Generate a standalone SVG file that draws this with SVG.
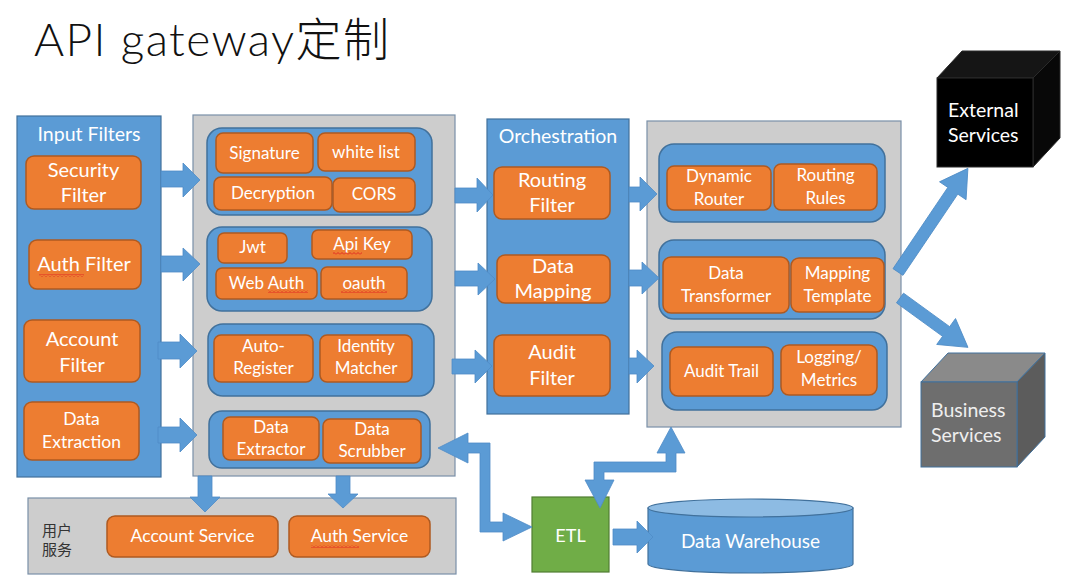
<svg xmlns="http://www.w3.org/2000/svg" width="1080" height="586" viewBox="0 0 1080 586">
<defs>
<style>
text{font-family:Lato,"Noto Sans","Noto Sans CJK SC",sans-serif;fill:#fff;text-anchor:middle}
.title{font-size:46px;font-weight:300;fill:#111;text-anchor:start;letter-spacing:1.4px}
.panel{fill:#5b9bd5;stroke:#41719c;stroke-width:1.2}
.gray{fill:#cdcdcd;stroke:#7a90a8;stroke-width:1.2}
.grp{fill:#5b9bd5;stroke:#41719c;stroke-width:1.5}
.box{fill:#ed7d31;stroke:#ae5a21;stroke-width:1.5}
.arr{fill:#5b9bd5;stroke:#4f8cc6;stroke-width:0.8}
.big{font-size:20px}
.mid{font-size:17.5px}
.sm{font-size:17px}
.lbl{font-size:19.5px}
.cube{font-size:19.5px;text-anchor:start}
.cn{font-size:15px;fill:#333;text-anchor:start}
</style>
<pattern id="squig" width="4" height="3" patternUnits="userSpaceOnUse">
<path d="M0,2.5 L2,0.5 L4,2.5" fill="none" stroke="#e02020" stroke-width="0.9"/>
</pattern>
</defs>
<rect width="1080" height="586" fill="#fff"/>
<text class="title" x="34" y="56">API gateway定制</text>

<g id="input-filters">
<rect class="panel" x="17" y="116" width="144" height="361"/>
<text class="lbl" x="89" y="141">Input Filters</text>
<g id="security-filter"><rect class="box" x="26" y="156" width="115" height="53" rx="8"/><text class="big" x="83.5" y="177">Security</text><text class="big" x="83.5" y="202">Filter</text></g>
<g id="auth-filter"><rect class="box" x="29" y="240" width="112" height="49" rx="8"/><text class="big" x="84" y="271">Auth Filter</text><rect x="39" y="274" width="45" height="3" fill="url(#squig)"/></g>
<g id="account-filter"><rect class="box" x="24" y="320" width="116" height="62" rx="8"/><text class="big" x="82" y="346">Account</text><text class="big" x="82" y="372">Filter</text></g>
<g id="data-extraction"><rect class="box" x="24" y="402" width="115" height="58" rx="8"/><text class="mid" x="81.5" y="425">Data</text><text class="mid" x="81.5" y="448">Extraction</text></g>
</g>

<g id="filter-impl">
<rect class="gray" x="193" y="115" width="262" height="361"/>
<g id="security-group">
<rect class="grp" x="207" y="128" width="225" height="87" rx="15"/>
<g id="signature"><rect class="box" x="216" y="133" width="97" height="40" rx="7"/><text class="sm" x="264.5" y="159">Signature</text></g>
<g id="white-list"><rect class="box" x="318" y="133" width="97" height="38" rx="7"/><text class="sm" x="366" y="158">white list</text></g>
<g id="decryption"><rect class="box" x="214" y="177" width="118" height="33" rx="7"/><text class="sm" x="273" y="199">Decryption</text></g>
<g id="cors"><rect class="box" x="333" y="178" width="82" height="34" rx="7"/><text class="sm" x="374" y="200">CORS</text></g>
</g>
<g id="auth-group">
<rect class="grp" x="207" y="227" width="225" height="84" rx="15"/>
<g id="jwt"><rect class="box" x="218" y="233" width="69" height="30" rx="6"/><text class="sm" x="252.5" y="253">Jwt</text></g>
<g id="api-key"><rect class="box" x="312" y="230" width="100" height="29" rx="6"/><text class="sm" x="362" y="250">Api Key</text><rect x="333" y="252" width="29" height="3" fill="url(#squig)"/></g>
<g id="web-auth"><rect class="box" x="216" y="268" width="101" height="31" rx="6"/><text class="sm" x="266.5" y="289">Web Auth</text><rect x="268" y="290" width="40" height="3" fill="url(#squig)"/></g>
<g id="oauth"><rect class="box" x="321" y="267" width="86" height="32" rx="6"/><text class="sm" x="364" y="289">oauth</text><rect x="341" y="290" width="46" height="3" fill="url(#squig)"/></g>
</g>
<g id="account-group">
<rect class="grp" x="208" y="324" width="226" height="72" rx="15"/>
<g id="auto-register"><rect class="box" x="214" y="335" width="99" height="47" rx="7"/><text class="sm" x="263.5" y="352">Auto-</text><text class="sm" x="263.5" y="374">Register</text></g>
<g id="identity-matcher"><rect class="box" x="320" y="335" width="92" height="47" rx="7"/><text class="sm" x="366" y="352">Identity</text><text class="sm" x="366" y="374">Matcher</text></g>
</g>
<g id="data-group">
<rect class="grp" x="209" y="411" width="221" height="57" rx="13"/>
<g id="data-extractor"><rect class="box" x="223" y="417" width="96" height="43" rx="7"/><text class="sm" x="271" y="433">Data</text><text class="sm" x="271" y="455">Extractor</text></g>
<g id="data-scrubber"><rect class="box" x="323" y="419" width="98" height="44" rx="7"/><text class="sm" x="372" y="435">Data</text><text class="sm" x="372" y="457">Scrubber</text></g>
</g>
</g>

<g id="orchestration">
<rect class="panel" x="487" y="119" width="142" height="295"/>
<text class="lbl" x="558" y="143">Orchestration</text>
<g id="routing-filter"><rect class="box" x="494" y="167" width="116" height="52" rx="8"/><text class="big" x="552" y="187">Routing</text><text class="big" x="552" y="212">Filter</text></g>
<g id="data-mapping"><rect class="box" x="497" y="255" width="113" height="48" rx="8"/><text class="big" x="553" y="273">Data</text><text class="big" x="553" y="298">Mapping</text></g>
<g id="audit-filter"><rect class="box" x="494" y="335" width="116" height="61" rx="8"/><text class="big" x="552" y="359">Audit</text><text class="big" x="552" y="385">Filter</text></g>
</g>

<g id="orchestration-impl">
<rect class="gray" x="647" y="121" width="254" height="306"/>
<g id="routing-group">
<rect class="grp" x="659" y="144" width="226" height="78" rx="15"/>
<g id="dynamic-router"><rect class="box" x="667" y="166" width="104" height="44" rx="7"/><text class="sm" x="719" y="182">Dynamic</text><text class="sm" x="719" y="205">Router</text></g>
<g id="routing-rules"><rect class="box" x="774" y="164" width="103" height="46" rx="7"/><text class="sm" x="825.5" y="181">Routing</text><text class="sm" x="825.5" y="204">Rules</text></g>
</g>
<g id="mapping-group">
<rect class="grp" x="659" y="240" width="226" height="79" rx="15"/>
<g id="data-transformer"><rect class="box" x="663" y="257" width="126" height="56" rx="8"/><text class="sm" x="726" y="279">Data</text><text class="sm" x="726" y="302">Transformer</text></g>
<g id="mapping-template"><rect class="box" x="791" y="258" width="93" height="54" rx="8"/><text class="sm" x="837.5" y="279">Mapping</text><text class="sm" x="837.5" y="302">Template</text></g>
</g>
<g id="audit-group">
<rect class="grp" x="662" y="332" width="225" height="78" rx="15"/>
<g id="audit-trail"><rect class="box" x="670" y="347" width="103" height="49" rx="8"/><text class="sm" x="721.5" y="377">Audit Trail</text></g>
<g id="logging-metrics"><rect class="box" x="781" y="345" width="96" height="50" rx="8"/><text class="sm" x="829" y="363">Logging/</text><text class="sm" x="829" y="386">Metrics</text></g>
</g>
</g>

<g id="external-services">
<polygon points="937,78 962,51 1060,51 1033,78" fill="#151515" stroke="#2a2a2a"/>
<polygon points="1033,78 1060,51 1060,138 1033,167" fill="#080808" stroke="#2a2a2a"/>
<rect x="937" y="78" width="96" height="89" fill="#000" stroke="#2a2a2a"/>
<text class="cube" x="948" y="117">External</text>
<text class="cube" x="948" y="142">Services</text>
</g>

<g id="business-services">
<polygon points="921,382 948,353 1045,353 1017,382" fill="#8a8a8a" stroke="#41719c"/>
<polygon points="1017,382 1045,353 1045,437 1017,467" fill="#5c5c5c" stroke="#41719c"/>
<rect x="921" y="382" width="96" height="85" fill="#6e6e6e" stroke="#41719c"/>
<text class="cube" x="931" y="417" style="fill:#eee">Business</text>
<text class="cube" x="931" y="442" style="fill:#eee">Services</text>
</g>

<g id="user-services">
<rect class="gray" x="28" y="498" width="428" height="76"/>
<text class="cn" x="42" y="536">用户</text>
<text class="cn" x="42" y="555">服务</text>
<g id="account-service"><rect class="box" x="107" y="516" width="171" height="41" rx="8"/><text class="mid" x="192.5" y="542">Account Service</text></g>
<g id="auth-service"><rect class="box" x="289" y="516" width="141" height="41" rx="8"/><text class="mid" x="359.5" y="542">Auth Service</text><rect x="311" y="545" width="48" height="3" fill="url(#squig)"/></g>
</g>

<g id="etl">
<rect x="532" y="497" width="77" height="75" fill="#70ad47" stroke="#507e32" stroke-width="1.2"/>
<text x="570.5" y="542" style="font-size:18px">ETL</text>
</g>

<g id="data-warehouse">
<path d="M648,508 L648,564 A102.5,9 0 0 0 853,564 L853,508 Z" fill="#5b9bd5" stroke="#41719c" stroke-width="1.2"/>
<ellipse cx="750.5" cy="508" rx="102.5" ry="9" fill="#8dbbe3" stroke="#41719c" stroke-width="1.2"/>
<text x="750.5" y="548" style="font-size:19px">Data Warehouse</text>
</g>

<g id="connectors">
<polygon class="arr" points="161,171 183,171 183,163 200,180 183,197 183,187 161,187"/>
<polygon class="arr" points="161,256 183,256 183,248 200,264 183,281 183,272 161,272"/>
<polygon class="arr" points="158,342 180,342 180,334 197,351 180,368 180,359 158,359"/>
<polygon class="arr" points="158,427 180,427 180,418 197,435 180,452 180,443 158,443"/>
<polygon class="arr" points="455,188 477,188 477,178 493,195 477,212 477,203 455,203"/>
<polygon class="arr" points="455,271 478,271 478,263 495,279 478,295 478,286 455,286"/>
<polygon class="arr" points="452,359 475,359 475,350 492,366 475,383 475,374 452,374"/>
<polygon class="arr" points="629,187 640,187 640,177 657,194 640,211 640,202 629,202"/>
<polygon class="arr" points="629,270 642,270 642,262 659,278 642,294 642,286 629,286"/>
<polygon class="arr" points="629,358 637,358 637,350 654,366 637,383 637,374 629,374"/>
<polygon class="arr" points="198,476 212,476 212,497 220,497 205,512 190,497 198,497"/>
<polygon class="arr" points="336,476 350,476 350,494 358,494 343,508 328,494 336,494"/>
<polygon class="arr" transform="translate(898,272) rotate(-56)" points="0,-6 98,-6 98,-16 125,0 98,16 98,6 0,6"/>
<polygon class="arr" transform="translate(900,298) rotate(36)" points="0,-6 57,-6 57,-16 84,0 57,16 57,6 0,6"/>
<polygon class="arr" points="613,529 637,529 637,521 653,537 637,553 637,545 613,545"/>
<polygon class="arr" points="438,448 468,433 468,443 490,443 490,522 503,522 503,513 532,527 503,541 503,532 480,532 480,453 468,453 468,463"/>
<polygon class="arr" points="600,508 585,480 594,480 594,462 666,462 666,453 657,453 671,427 685,453 676,453 676,472 604,472 604,480 614,480"/>
</g>
</svg>
